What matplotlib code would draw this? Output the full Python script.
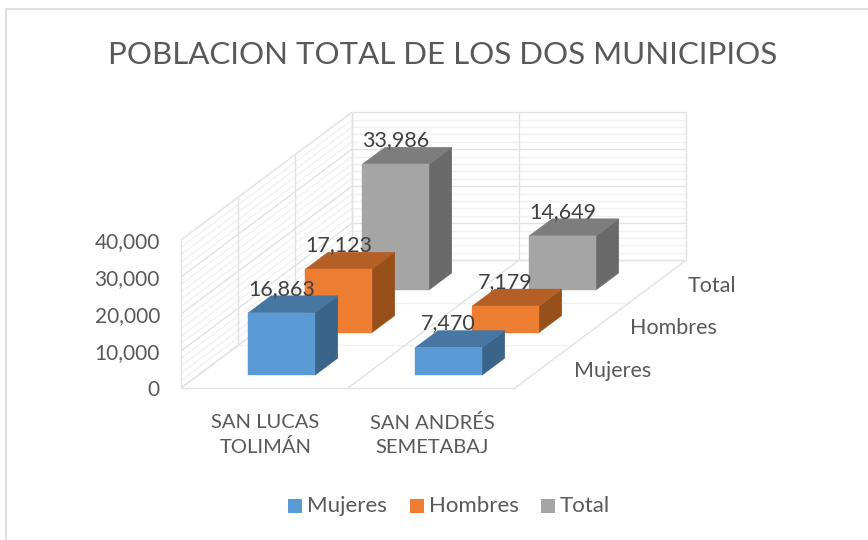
import matplotlib
matplotlib.use('Agg')
import matplotlib.pyplot as plt
from matplotlib.patches import Polygon, Rectangle

plt.rcParams['font.family'] = ['Lato', 'DejaVu Sans']

title = 'POBLACION TOTAL DE LOS DOS MUNICIPIOS'
municipios = ['SAN LUCAS\nTOLIMÁN', 'SAN ANDRÉS\nSEMETABAJ']
series = ['Mujeres', 'Hombres', 'Total']
mujeres = [16863, 7470]
hombres = [17123, 7179]
total = [33986, 14649]
z_ticks = [0, 10000, 20000, 30000, 40000]
z_max = 40000
minor_step = 2000

colors = ['#5B9BD5', '#ED7D31', '#A5A5A5']
top_colors = ['#4676A2', '#B45F25', '#7D7D7D']
side_colors = ['#3A6489', '#98501B', '#6A6A6A']
text_color = '#595959'
major_grid = '#E2E2E2'
minor_grid = '#F1F1F1'

# oblique projection of the excel 3d chart, output in pixels
X0, Y0 = 181, 388
DX = 167
DEPTH_X, DEPTH_Y = 57, -42.6
Z_H = 148


def proj(x, d, z):
    return (X0 + x * DX + d * DEPTH_X, Y0 + d * DEPTH_Y - z / z_max * Z_H)


def line3d(ax, a, b, color, lw=1.0):
    pa, pb = proj(*a), proj(*b)
    ax.plot([pa[0], pb[0]], [pa[1], pb[1]], color=color, lw=lw, zorder=1,
            solid_capstyle='butt')


def draw_bar(ax, x, d, value, i):
    x0, x1 = x + 0.3, x + 0.7
    d0, d1 = d + 0.3, d + 0.7
    front = [proj(x0, d0, 0), proj(x1, d0, 0), proj(x1, d0, value), proj(x0, d0, value)]
    side = [proj(x1, d0, 0), proj(x1, d1, 0), proj(x1, d1, value), proj(x1, d0, value)]
    top = [proj(x0, d0, value), proj(x1, d0, value), proj(x1, d1, value), proj(x0, d1, value)]
    ax.add_patch(Polygon(side, fc=side_colors[i], ec=side_colors[i], lw=0.3, zorder=3))
    ax.add_patch(Polygon(top, fc=top_colors[i], ec=top_colors[i], lw=0.3, zorder=3))
    ax.add_patch(Polygon(front, fc=colors[i], ec=colors[i], lw=0.3, zorder=3))


def main():
    fig = plt.figure(figsize=(8.68, 5.4), dpi=100)
    ax = fig.add_axes([0, 0, 1, 1])
    ax.set_xlim(0, 868)
    ax.set_ylim(540, 0)
    ax.axis('off')

    # marco del grafico
    ax.plot([5.5, 5.5, 868], [540, 8.5, 8.5], color='#D9D9D9', lw=1.2, zorder=1)

    ax.text(443, 55, title, ha='center', va='center', fontsize=22.5, color=text_color)

    n_x = len(municipios)
    n_d = len(series)

    # rejilla menor y mayor
    for z in range(0, z_max + 1, minor_step):
        c = major_grid if z in z_ticks else minor_grid
        line3d(ax, (0, 0, z), (0, n_d, z), c)
        line3d(ax, (0, n_d, z), (n_x, n_d, z), c)
    for d in range(n_d + 1):
        line3d(ax, (0, d, 0), (0, d, z_max), major_grid)
        line3d(ax, (0, d, 0), (n_x, d, 0), major_grid if d in (0, n_d) else minor_grid)
    for x in range(n_x + 1):
        line3d(ax, (x, n_d, 0), (x, n_d, z_max), major_grid)
        line3d(ax, (x, 0, 0), (x, n_d, 0), major_grid)

    # barras, de atras hacia delante
    values = [mujeres, hombres, total]
    for d in reversed(range(n_d)):
        for x in range(n_x):
            draw_bar(ax, x, d, values[d][x], d)
    for d in reversed(range(n_d)):
        for x in range(n_x):
            px, py = proj(x + 0.5, d + 0.3, values[d][x])
            ax.text(px, py - 24, f'{values[d][x]:,}', ha='center', va='center',
                    fontsize=15.5, color='#404040', zorder=5)

    # etiquetas de ejes
    for z in z_ticks:
        px, py = proj(0, 0, z)
        ax.text(160, py + 2, f'{z:,}', ha='right', va='center', fontsize=15, color=text_color)
    for x, name in enumerate(municipios):
        px, py = proj(x + 0.5, 0, 0)
        ax.text(px + 1, 435, name, ha='center', va='center', fontsize=14.5, color=text_color,
                linespacing=1.5)
    for d, name in enumerate(series):
        px, py = proj(n_x, d + 0.5, 0)
        ax.text(px + 30, py + 4, name, ha='left', va='center', fontsize=15.5, color=text_color)

    # leyenda
    legend_x = [288, 410, 541]
    for lx, name, c in zip(legend_x, series, colors):
        ax.add_patch(Rectangle((lx, 499), 14, 14, fc=c, ec='none', zorder=3))
        ax.text(lx + 19, 506, name, ha='left', va='center', fontsize=16, color=text_color)

    fig.savefig('out.png', dpi=100)


if __name__ == '__main__':
    main()
